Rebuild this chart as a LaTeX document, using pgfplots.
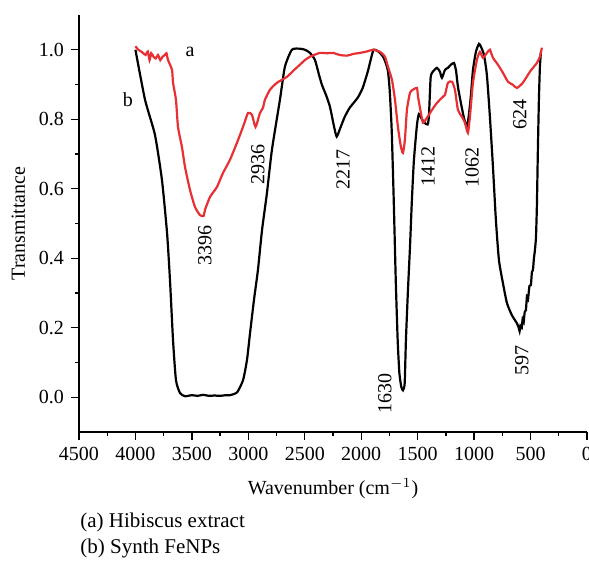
\documentclass[border=0pt]{standalone}
\usepackage{pgfplots}
\pgfplotsset{compat=1.18}
\usepackage{fontspec}
\setmainfont{Liberation Serif}
\definecolor{specred}{RGB}{232,48,52}
\begin{document}
\begin{tikzpicture}[font=\fontsize{10}{12}\selectfont]
\begin{axis}[
  at={(0pt,0pt)}, anchor=south west,
  scale only axis, width=254pt, height=208.5pt,
  x dir=reverse, xmin=0, xmax=4500, ymin=-0.1, ymax=1.1,
  axis x line=bottom, axis y line=left,
  axis line style={-, line width=0.8pt},
  tick style={line width=0.7pt, black},
  tick align=outside,
  major tick length=4pt, minor tick length=2pt,
  xtick={0,500,...,4500}, minor x tick num=1,
  ytick={0,0.2,...,1.0}, minor y tick num=1,
  /pgf/number format/assume math mode=true,
  x tick label style={/pgf/number format/set thousands separator={}},
  y tick label style={/pgf/number format/.cd, fixed, fixed zerofill, precision=1},
  xlabel={Wavenumber (cm$^{-1}$)},
  xlabel style={yshift=-2pt},
  ylabel={Transmittance},
  clip=false,
]
% (b) Synth FeNPs
\addplot[black, line width=1.1pt, smooth, tension=0.35] coordinates {
(4000,1.0) (3915,0.856) (3827,0.755) (3765,0.625) (3720,0.473) (3694,0.337)
(3667,0.164) (3641,0.049) (3605,0.012) (3561,0.003) (3500,0.006) (3450,0.004)
(3400,0.007) (3350,0.004) (3300,0.005) (3250,0.004) (3200,0.006) (3163,0.006)
(3100,0.014) (3047,0.049) (3012,0.107) (2985,0.184) (2950,0.28) (2915,0.366)
(2879,0.48) (2835,0.588) (2791,0.712) (2720,0.856) (2676,0.951) (2614,1.0)
(2543,1.003) (2498,1.0) (2454,0.991) (2410,0.971) (2374,0.928) (2348,0.899)
(2312,0.870) (2277,0.836) (2240,0.778) (2217,0.75) (2185,0.775) (2146,0.807)
(2102,0.833) (2031,0.862) (1987,0.890) (1942,0.937) (1916,0.971) (1890,1.0)
(1845,0.994) (1801,0.977) (1765,0.942) (1748,0.885) (1730,0.769) (1712,0.568)
(1694,0.337) (1677,0.164) (1662,0.07) (1645,0.03) (1630,0.02) (1615,0.04)
(1604,0.164) (1586,0.308) (1568,0.432) (1551,0.568) (1533,0.683) (1506,0.784)
(1489,0.815) (1462,0.80) (1440,0.79) (1412,0.785) (1400,0.81) (1385,0.92)
(1365,0.937) (1329,0.948) (1303,0.937) (1285,0.919) (1258,0.942) (1232,0.948)
(1205,0.957) (1179,0.962) (1161,0.942) (1143,0.893) (1117,0.847) (1090,0.804)
(1064,0.778) (1046,0.813) (1028,0.870) (1010,0.942) (984,0.994) (957,1.017)
(940,1.009) (913,0.986) (887,0.928) (860,0.807) (833,0.663) (807,0.510)
(780,0.395) (745,0.329) (709,0.271) (665,0.236) (621,0.213) (605,0.20)
(597,0.19) (590,0.205) (578,0.20) (570,0.225) (561,0.215) (552,0.245)
(541,0.251) (532,0.29) (523,0.280) (510,0.32) (497,0.323) (488,0.36)
(479,0.366) (470,0.40) (461,0.424) (452,0.46) (444,0.548) (435,0.712)
(426,0.856) (417,0.951) (408,0.994)
};
% (a) Hibiscus extract
\addplot[specred, line width=1.1pt, smooth, tension=0.35] coordinates {
(4000,1.01) (3975,1.0) (3950,0.995) (3930,0.99) (3910,0.985) (3890,0.995)
(3875,0.97) (3860,0.99) (3840,0.98) (3820,0.975) (3800,0.985) (3780,0.97)
(3760,0.98) (3740,0.985) (3725,0.99) (3712,0.971) (3676,0.942) (3667,0.905)
(3641,0.856) (3623,0.778) (3588,0.720) (3561,0.663) (3517,0.597) (3473,0.548)
(3428,0.524) (3396,0.522) (3384,0.539) (3340,0.576) (3278,0.605) (3225,0.645)
(3163,0.683) (3101,0.732) (3047,0.778) (3003,0.818) (2968,0.813) (2936,0.778)
(2897,0.818) (2870,0.833) (2853,0.856) (2808,0.885) (2746,0.905) (2658,0.922)
(2600,0.94) (2543,0.957) (2500,0.97) (2454,0.980) (2410,0.986) (2366,0.991)
(2300,0.99) (2250,0.991) (2190,0.985) (2126,0.983) (2070,0.988) (2011,0.991)
(1950,0.995) (1896,1.0) (1834,0.994) (1790,0.980) (1763,0.951) (1728,0.914)
(1701,0.856) (1675,0.778) (1648,0.720) (1630,0.703) (1613,0.741) (1595,0.827)
(1568,0.876) (1542,0.885) (1506,0.890) (1497,0.865) (1471,0.818) (1453,0.790)
(1418,0.804) (1373,0.827) (1329,0.847) (1285,0.862) (1258,0.870) (1232,0.905)
(1196,0.908) (1170,0.885) (1143,0.827) (1108,0.807) (1081,0.790) (1055,0.761)
(1037,0.807) (1010,0.905) (975,0.971) (948,0.994) (922,0.977) (886,0.991)
(860,1.0) (833,0.977) (789,0.957) (745,0.934) (700,0.908) (656,0.899)
(621,0.890) (568,0.905) (505,0.937) (444,0.962) (417,0.980) (399,1.006)
};
\node at (axis cs:3517,0.994) {a};
\node at (axis cs:4066,0.856) {b};
\node[rotate=90] at (axis cs:3384,0.438) {3396};
\node[rotate=90] at (axis cs:2915,0.669) {2936};
\node[rotate=90] at (axis cs:2162,0.654) {2217};
\node[rotate=90] at (axis cs:1790,0.012) {1630};
\node[rotate=90] at (axis cs:1409,0.663) {1412};
\node[rotate=90] at (axis cs:1019,0.66) {1062};
\node[rotate=90] at (axis cs:594,0.813) {624};
\node[rotate=90] at (axis cs:576,0.107) {597};
\end{axis}
\node[anchor=west, inner sep=0pt, font=\fontsize{10.5}{12}\selectfont] at (0.5pt,-45pt) {(a) Hibiscus extract};
\node[anchor=west, inner sep=0pt, font=\fontsize{10.5}{12}\selectfont] at (0.5pt,-58pt) {(b) Synth FeNPs};
\pgfresetboundingbox
\path[use as bounding box] (-39.5pt,-68pt) rectangle (255pt,216pt);
\end{tikzpicture}
\end{document}
